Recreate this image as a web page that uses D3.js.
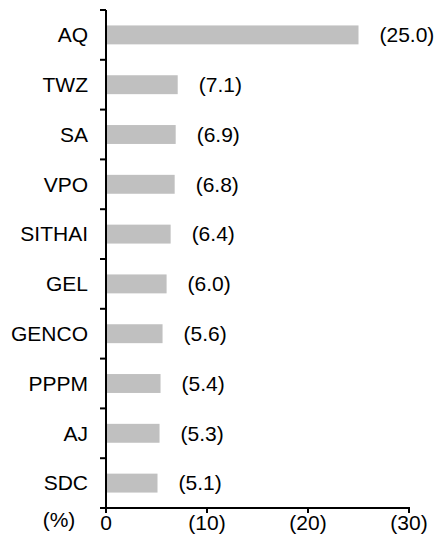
<!DOCTYPE html>
<html><head><meta charset="utf-8">
<script src="https://cdn.jsdelivr.net/npm/d3@7"></script>
<style>body{margin:0;background:#fff}svg{display:block}text{font-family:"Liberation Sans",Arial,sans-serif;fill:#000}</style>
</head><body><svg id="c" width="438" height="543"></svg>
<script>
const categories = ["AQ","TWZ","SA","VPO","SITHAI","GEL","GENCO","PPPM","AJ","SDC"];
const values = [25.0,7.1,6.9,6.8,6.4,6.0,5.6,5.4,5.3,5.1];
const xTicks = [0,10,20,30];
const unitLabel = "(%)";

const svg = d3.select("#c");
const x0 = 106, x1 = 409, yTop = 10, yBot = 508;
const fs = 21;
const x = d3.scaleLinear().domain([0,30]).range([x0,x1]);
const y = d3.scaleBand().domain(categories).range([yTop,yBot]).paddingInner(0.62).paddingOuter(0.31);
const bandAll = d3.scaleLinear().domain([0,categories.length]).range([yTop,yBot]);

svg.selectAll("rect.bar").data(values).join("rect")
  .attr("x", x(0)).attr("y",(d,i)=>y(categories[i]))
  .attr("width", d=>x(d)-x(0)).attr("height", y.bandwidth())
  .attr("fill","#c0c0c0");

svg.selectAll("text.val").data(values).join("text")
  .attr("x", d=>x(d)+21).attr("y",(d,i)=>y(categories[i])+y.bandwidth()/2)
  .attr("dy","0.35em").attr("font-size",fs)
  .text(d=>"("+d.toFixed(1)+")");

svg.selectAll("text.cat").data(categories).join("text")
  .attr("x", 88).attr("y", d=>y(d)+y.bandwidth()/2)
  .attr("dy","0.35em").attr("text-anchor","end").attr("font-size",fs)
  .text(d=>d);

const g = svg.append("g").attr("stroke","#000").attr("stroke-width",2);
g.append("line").attr("x1",x0).attr("x2",x0).attr("y1",yTop).attr("y2",yBot+5);
g.append("line").attr("x1",x0-6).attr("x2",x1+1).attr("y1",yBot).attr("y2",yBot);
d3.range(categories.length+1).forEach(i=>{
  g.append("line").attr("x1",x0-6).attr("x2",x0).attr("y1",bandAll(i)).attr("y2",bandAll(i));
});
xTicks.forEach(t=>{
  g.append("line").attr("x1",x(t)).attr("x2",x(t)).attr("y1",yBot).attr("y2",yBot+5);
});
svg.selectAll("text.xt").data(xTicks).join("text")
  .attr("x", d=>x(d)).attr("y", 523).attr("dy","0.35em")
  .attr("text-anchor","middle").attr("font-size",fs)
  .text(d=>d===0?"0":"("+d+")");
svg.append("text").attr("x",59).attr("y",520).attr("dy","0.35em")
  .attr("text-anchor","middle").attr("font-size",fs).text(unitLabel);
</script></body></html>
